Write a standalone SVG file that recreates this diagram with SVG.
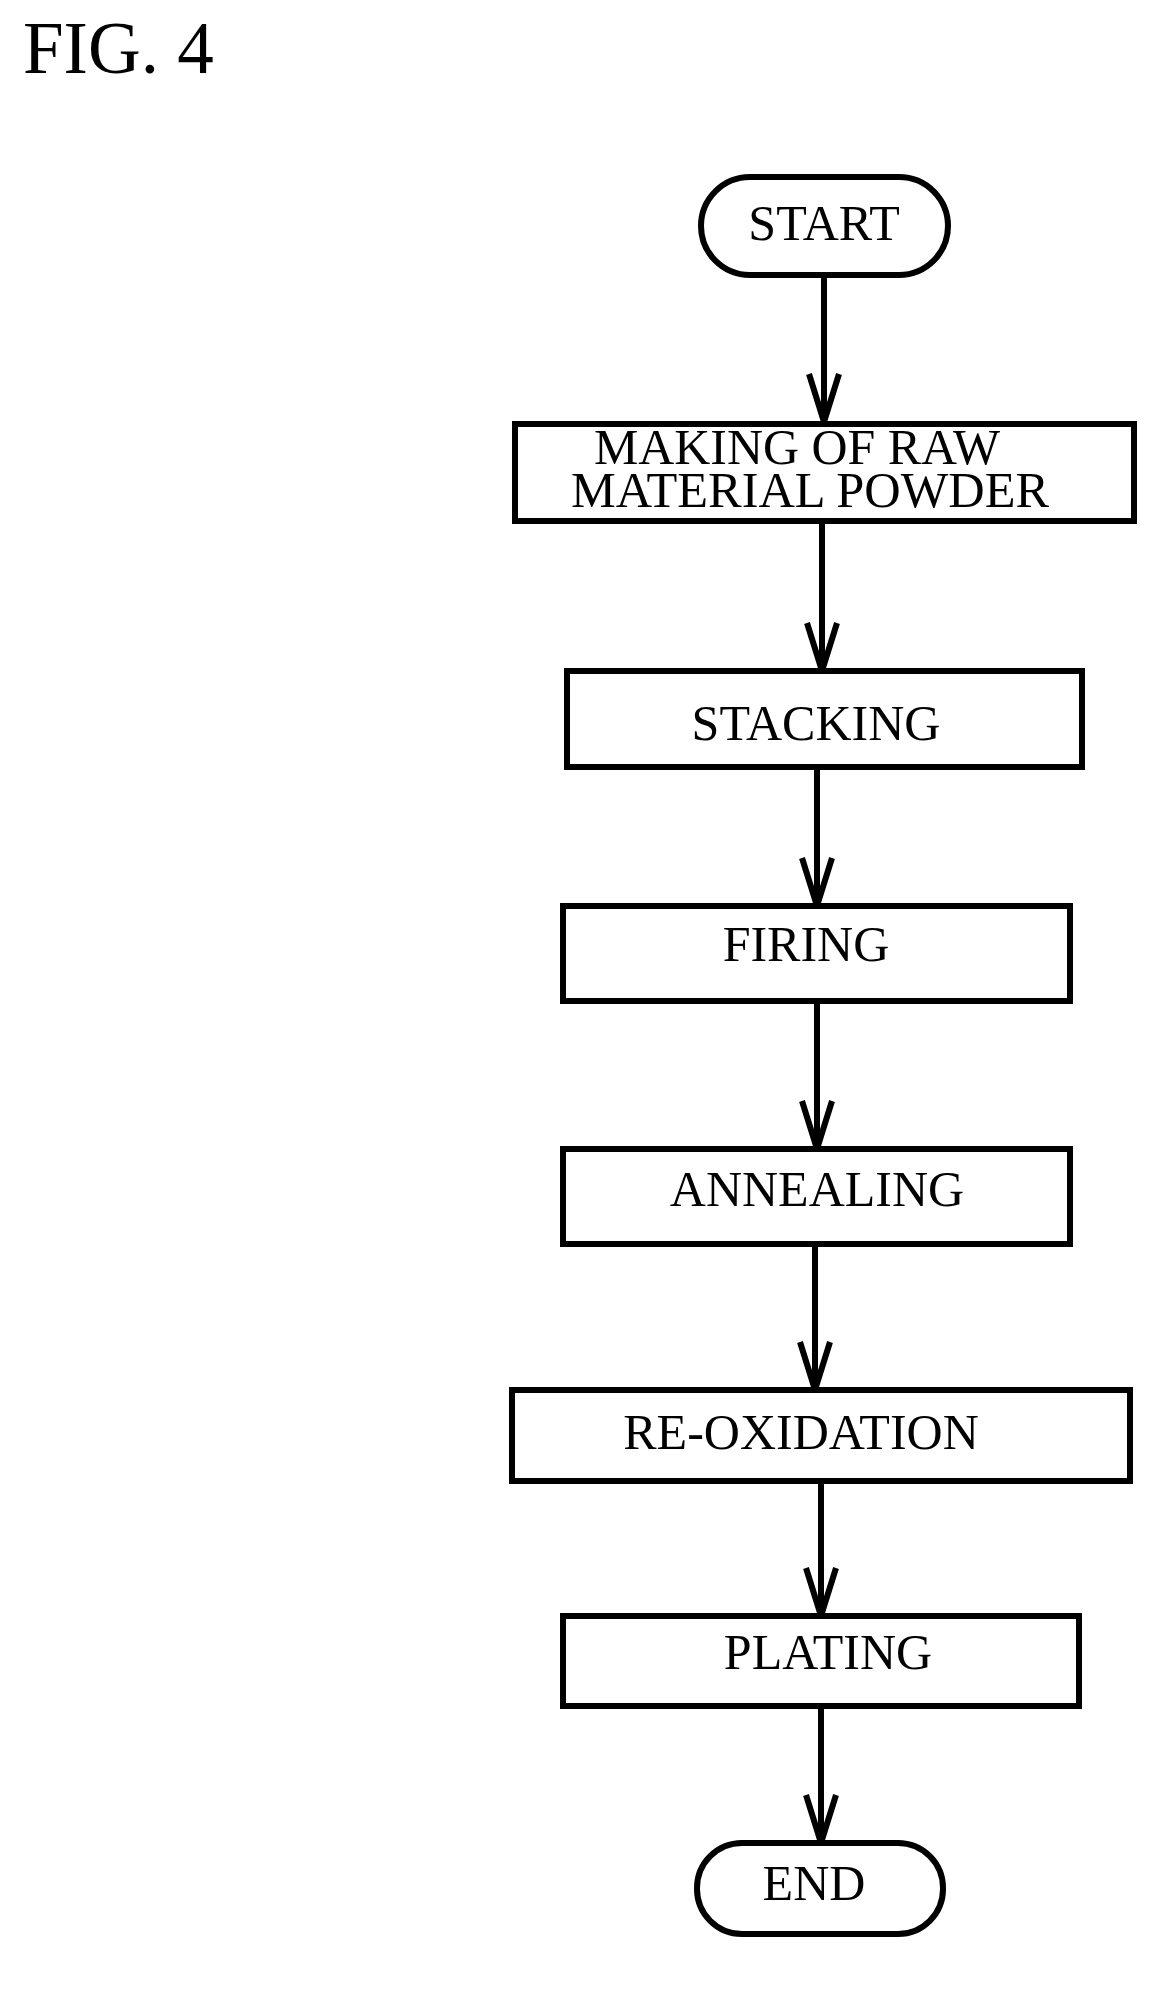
<svg xmlns="http://www.w3.org/2000/svg" width="1149" height="1991" viewBox="0 0 1149 1991">
<style>
.b{fill:#fff;stroke:#000;stroke-width:6}
.t{font-family:"Liberation Serif",serif;font-size:50px;text-anchor:middle;fill:#000}
.c line,.c polyline{stroke:#000;stroke-width:6;fill:none}
</style>
<rect width="1149" height="1991" fill="#fff"/>
<text x="23" y="73" style="font-family:'Liberation Serif',serif;font-size:73px">FIG. 4</text>
<g class="c">
<line x1="824" y1="275" x2="824" y2="422"/><polyline points="809,374 824,422 839,374"/>
<line x1="822" y1="521" x2="822" y2="671"/><polyline points="807,623 822,671 837,623"/>
<line x1="817" y1="767" x2="817" y2="906"/><polyline points="802,858 817,906 832,858"/>
<line x1="817" y1="1001" x2="817" y2="1149"/><polyline points="802,1101 817,1149 832,1101"/>
<line x1="815" y1="1244" x2="815" y2="1390"/><polyline points="800,1342 815,1390 830,1342"/>
<line x1="821" y1="1481" x2="821" y2="1616"/><polyline points="806,1568 821,1616 836,1568"/>
<line x1="821" y1="1706" x2="821" y2="1843"/><polyline points="806,1795 821,1843 836,1795"/>
</g>
<g id="start"><rect class="b" x="701" y="177" width="247" height="98" rx="49"/><text class="t" x="824" y="240">START</text></g>
<g id="making"><rect class="b" x="515" y="424" width="619" height="97"/><text class="t" x="797" y="464" textLength="406" lengthAdjust="spacingAndGlyphs">MAKING OF RAW</text><text class="t" x="810" y="507" textLength="478" lengthAdjust="spacingAndGlyphs">MATERIAL POWDER</text></g>
<g id="stacking"><rect class="b" x="567" y="671" width="515" height="96"/><text class="t" x="816" y="740">STACKING</text></g>
<g id="firing"><rect class="b" x="563" y="906" width="507" height="95"/><text class="t" x="806" y="961">FIRING</text></g>
<g id="annealing"><rect class="b" x="563" y="1149" width="507" height="95"/><text class="t" x="817" y="1206">ANNEALING</text></g>
<g id="reox"><rect class="b" x="512" y="1390" width="618" height="91"/><text class="t" x="801" y="1449">RE-OXIDATION</text></g>
<g id="plating"><rect class="b" x="563" y="1616" width="516" height="90"/><text class="t" x="828" y="1669">PLATING</text></g>
<g id="end"><rect class="b" x="697" y="1843" width="246" height="91" rx="45"/><text class="t" x="814" y="1900">END</text></g>
</svg>
